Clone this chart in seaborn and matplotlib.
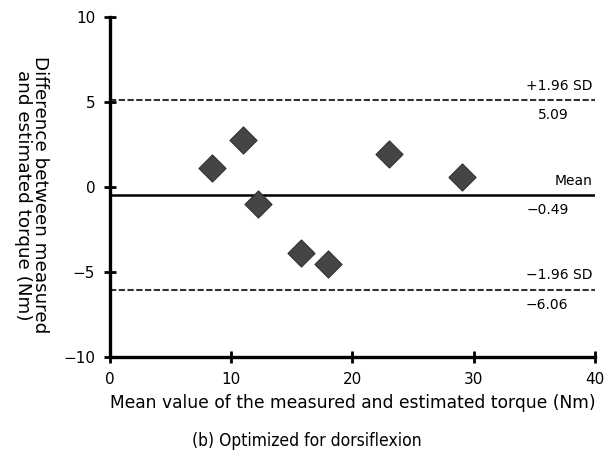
import matplotlib
matplotlib.use("Agg")
import matplotlib.pyplot as plt
import seaborn as sns
import pandas as pd

# Bland-Altman data: mean of measured/estimated torque vs. their difference
mean_torque = [8.4, 11.0, 12.2, 15.8, 18.0, 23.0, 29.0]
diff_torque = [1.1, 2.75, -1.0, -3.85, -4.55, 1.95, 0.6]
bias = -0.49
upper_loa = 5.09
lower_loa = -6.06
x_ticks = [0, 10, 20, 30, 40]
y_ticks = [-10, -5, 0, 5, 10]

df = pd.DataFrame({"mean": mean_torque, "diff": diff_torque})

sns.set_style("ticks")
plt.rcParams["font.family"] = ["DejaVu Sans"]
plt.rcParams["text.color"] = "black"
plt.rcParams["axes.labelcolor"] = "black"

fig = plt.figure(figsize=(6.13, 4.59), dpi=100)
ax = fig.add_axes([0.179, 0.222, 0.792, 0.741])

sns.scatterplot(data=df, x="mean", y="diff", marker="D", s=190,
                color="#454545", edgecolor="#303030", linewidth=0.8,
                ax=ax, zorder=3)

ax.axhline(bias, color="black", lw=1.8, zorder=2)
for v in (upper_loa, lower_loa):
    ax.axhline(v, color="#333333", lw=1.5, ls=(0, (3, 1.2)), zorder=2)

ax.set_xlim(0, 40)
ax.set_ylim(-10, 10)
ax.set_xticks(x_ticks)
ax.set_yticks(y_ticks)
ax.tick_params(direction="inout", length=9, width=2, labelsize=11,
               colors="black", pad=6)

for side in ("top", "right"):
    ax.spines[side].set_visible(False)
for side in ("left", "bottom"):
    ax.spines[side].set_linewidth(2.4)
    ax.spines[side].set_color("black")

ax.set_xlabel("Mean value of the measured and estimated torque (Nm)",
              fontsize=12.3, labelpad=5, color="black")
ax.set_ylabel("")
fig.text(0.051, 0.575, "Difference between measured\nand estimated torque (Nm)",
         rotation=-90, ha="center", va="center", fontsize=13.2,
         linespacing=0.95, color="black")

# Annotations for limits of agreement and mean
lbl = dict(ha="right", fontsize=10, color="black")
ax.text(39.8, upper_loa + 0.45, "+1.96 SD", va="bottom", **lbl)
ax.text(37.8, upper_loa - 0.45, f"{upper_loa:.2f}", va="top", **lbl)
ax.text(39.8, bias + 0.45, "Mean", va="bottom", **lbl)
ax.text(37.8, bias - 0.45, f"\u2212{abs(bias):.2f}", va="top", **lbl)
ax.text(39.8, lower_loa + 0.45, "\u22121.96 SD", va="bottom", **lbl)
ax.text(37.8, lower_loa - 0.45, f"\u2212{abs(lower_loa):.2f}", va="top", **lbl)

fig.text(0.5, 0.04, "(b) Optimized for dorsiflexion", ha="center",
         va="center", fontsize=12.5, fontstretch="condensed", color="black",
         family=["Liberation Sans Narrow", "DejaVu Sans"])

fig.savefig("out.png", dpi=100)
